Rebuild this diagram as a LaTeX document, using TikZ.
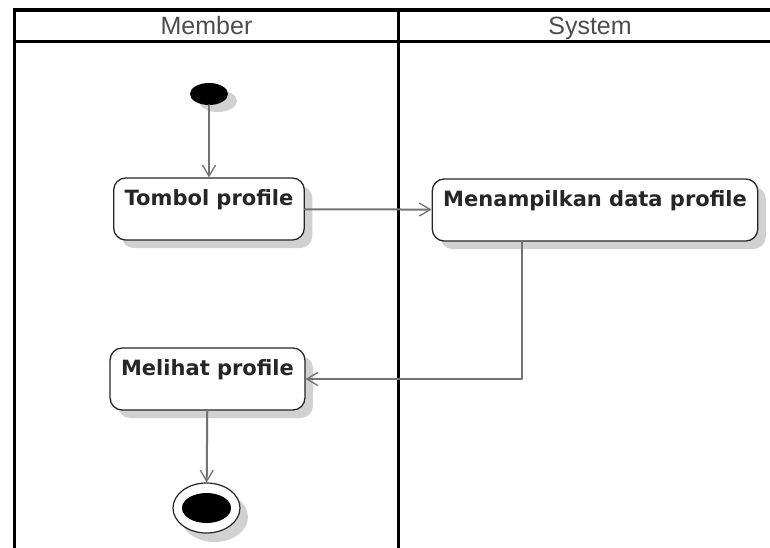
\documentclass[tikz,border=0pt]{standalone}
\usepackage{fontspec}
\newfontfamily\lanefont{Liberation Sans}
\newfontfamily\actfont{DejaVu Sans}
\usetikzlibrary{arrows.meta,shadows,shapes.geometric}

\begin{document}
\begin{tikzpicture}[x=1pt,y=-1pt,line cap=round,line join=round,
  lane/.style={line width=3.8pt,line cap=rect,line join=miter},
  lanetitle/.style={font=\lanefont\fontsize{25}{28}\selectfont,text=black!70,inner sep=0pt,anchor=base},
  act/.style={draw=black!85,line width=1.3pt,fill=white,rounded corners=12pt,
    inner xsep=11pt,inner ysep=4pt,text height=23pt,text depth=31pt,
    font=\actfont\bfseries\fontsize{21}{24}\selectfont,text=black!85,
    drop shadow={shadow xshift=8pt,shadow yshift=-8pt,fill=black!18,opacity=1}},
  startnode/.style={ellipse,fill=black,minimum width=38pt,minimum height=22pt,inner sep=0pt,
    drop shadow={shadow xshift=9pt,shadow yshift=-7pt,fill=black!18,opacity=1}},
  endring/.style={ellipse,draw=black!85,line width=1.2pt,fill=white,minimum width=67pt,
    minimum height=50pt,inner sep=0pt,
    drop shadow={shadow xshift=8pt,shadow yshift=-9pt,fill=black!18,opacity=1}},
  enddot/.style={ellipse,fill=black,minimum width=49pt,minimum height=30pt,inner sep=0pt},
  flow/.style={draw=black!55,line width=2pt,
    -{Straight Barb[length=11pt,width=13pt,line width=1.3pt]}}]
  \useasboundingbox (0,0) rectangle (770,548);
  % swimlanes
  \draw[lane] (772,10) -- (14.5,10) -- (14.5,550);
  \draw[lane] (14.5,41.5) -- (772,41.5);
  \draw[lane] (398.5,10) -- (398.5,550);
  \node[lanetitle] (member) at (206.5,35) {Member};
  \node[lanetitle] (system) at (590,35) {System};
  % activities
  \node[startnode] (start) at (209,94) {};
  \node[act] (tombol) at (209,209) {Tombol profile};
  \node[act] (tampil) at (595,210) {Menampilkan data profile};
  \node[act] (lihat) at (207.5,379) {Melihat profile};
  \node[endring] (stop) at (206.5,508) {};
  \node[enddot] (stopdot) at (stop) {};
  \coordinate (turn) at (522,379);
  % flows
  \draw[flow] (start) -- (tombol);
  \draw[flow] (tombol) -- (tampil);
  \draw[flow] (turn |- tampil.south) -- (turn) -- (lihat.east);
  \draw[flow] (lihat) -- (stop);
\end{tikzpicture}
\end{document}
